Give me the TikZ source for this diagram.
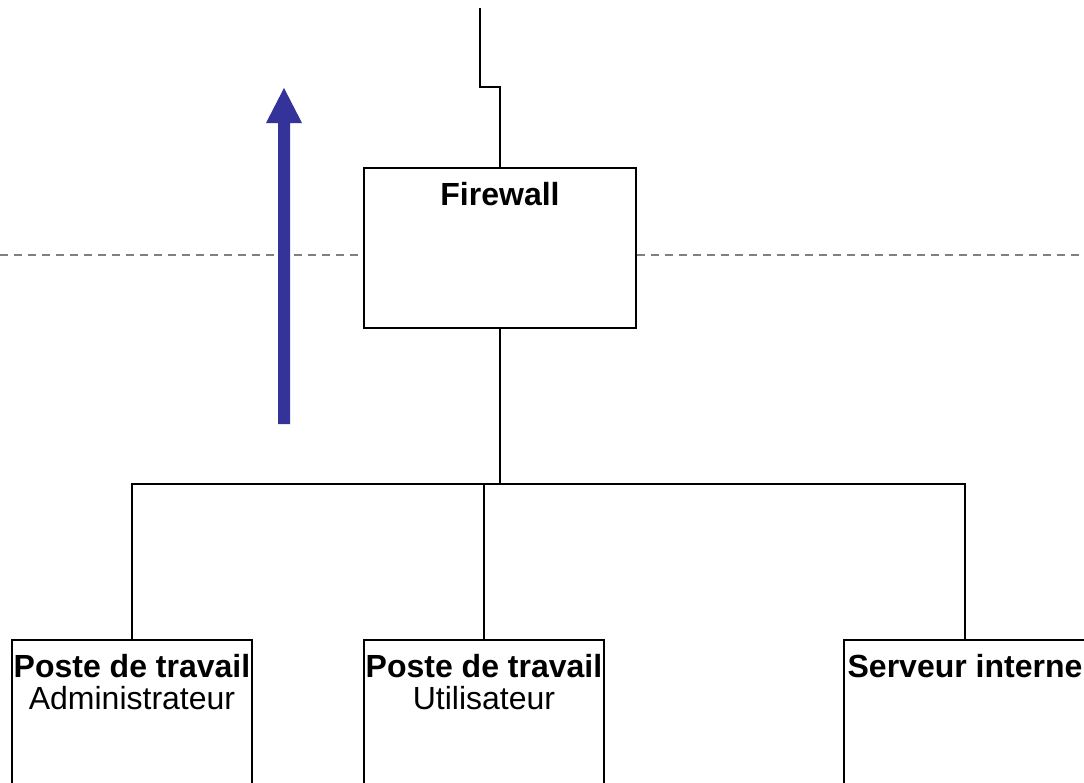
\documentclass[tikz,border=0pt]{standalone}
\usepackage{fontspec}
\setmainfont{Liberation Sans}
\definecolor{flowblue}{HTML}{333399}
\definecolor{zonegrey}{HTML}{808080}
\tikzset{
  wire/.style={line width=2.4pt, draw=black},
  unit/.style={rectangle, draw=black, line width=2.4pt, fill=white, inner sep=0pt},
  title/.style={anchor=base, inner sep=0pt, font=\fontsize{32}{32}\selectfont\bfseries},
  subtitle/.style={anchor=base, inner sep=0pt, font=\fontsize{32}{32}\selectfont},
  divider/.style={draw=zonegrey, line width=2.2pt, dash pattern=on 8pt off 6pt},
}
\begin{document}
\begin{tikzpicture}[x=1pt, y=-1pt]
  \clip (0,0) rectangle (1084,782);
  \fill[white] (0,0) rectangle (1084,782);

  % zone boundary
  \coordinate (dl) at (0,255);
  \coordinate (dr) at (1084,255);

  % firewall and internal hosts
  \node[unit, minimum width=272pt, minimum height=160pt] (fw) at (500,248) {};
  \node[unit, minimum width=240pt, minimum height=160pt] (b1) at (132,720) {};
  \node[unit, minimum width=240pt, minimum height=160pt] (b2) at (484,720) {};
  \node[unit, minimum width=242pt, minimum height=160pt] (b3) at (965,720) {};

  \draw[divider] (dl) -- (dl -| fw.west);
  \draw[divider] (dr -| fw.east) -- (dr);

  \node[title] (fwt) at ([yshift=-39pt]fw.north) {Firewall};
  \node[title] (b1t) at ([yshift=-39pt]b1.north) {Poste de travail};
  \node[subtitle] (b1s) at ([yshift=-71pt]b1.north) {Administrateur};
  \node[title] (b2t) at ([yshift=-39pt]b2.north) {Poste de travail};
  \node[subtitle] (b2s) at ([yshift=-71pt]b2.north) {Utilisateur};
  \node[title] (b3t) at ([yshift=-39pt]b3.north) {Serveur interne};

  % uplink
  \coordinate (up) at (480,8);
  \coordinate (jog) at (480,87);
  \draw[wire] (up) -- (jog) -| (fw.north);

  % internal bus
  \coordinate (bus) at (500,484);
  \draw[wire] (fw.south) -- (bus);
  \draw[wire] (b1.north) -- (b1.north |- bus) -| (b3.north);
  \draw[wire] (b2.north) -- (b2.north |- bus);

  % outbound direction
  \fill[flowblue] (278,424) -- (278,123) -- (266,123) -- (284,88)
                  -- (302,123) -- (290,123) -- (290,424) -- cycle;
\end{tikzpicture}
\end{document}
